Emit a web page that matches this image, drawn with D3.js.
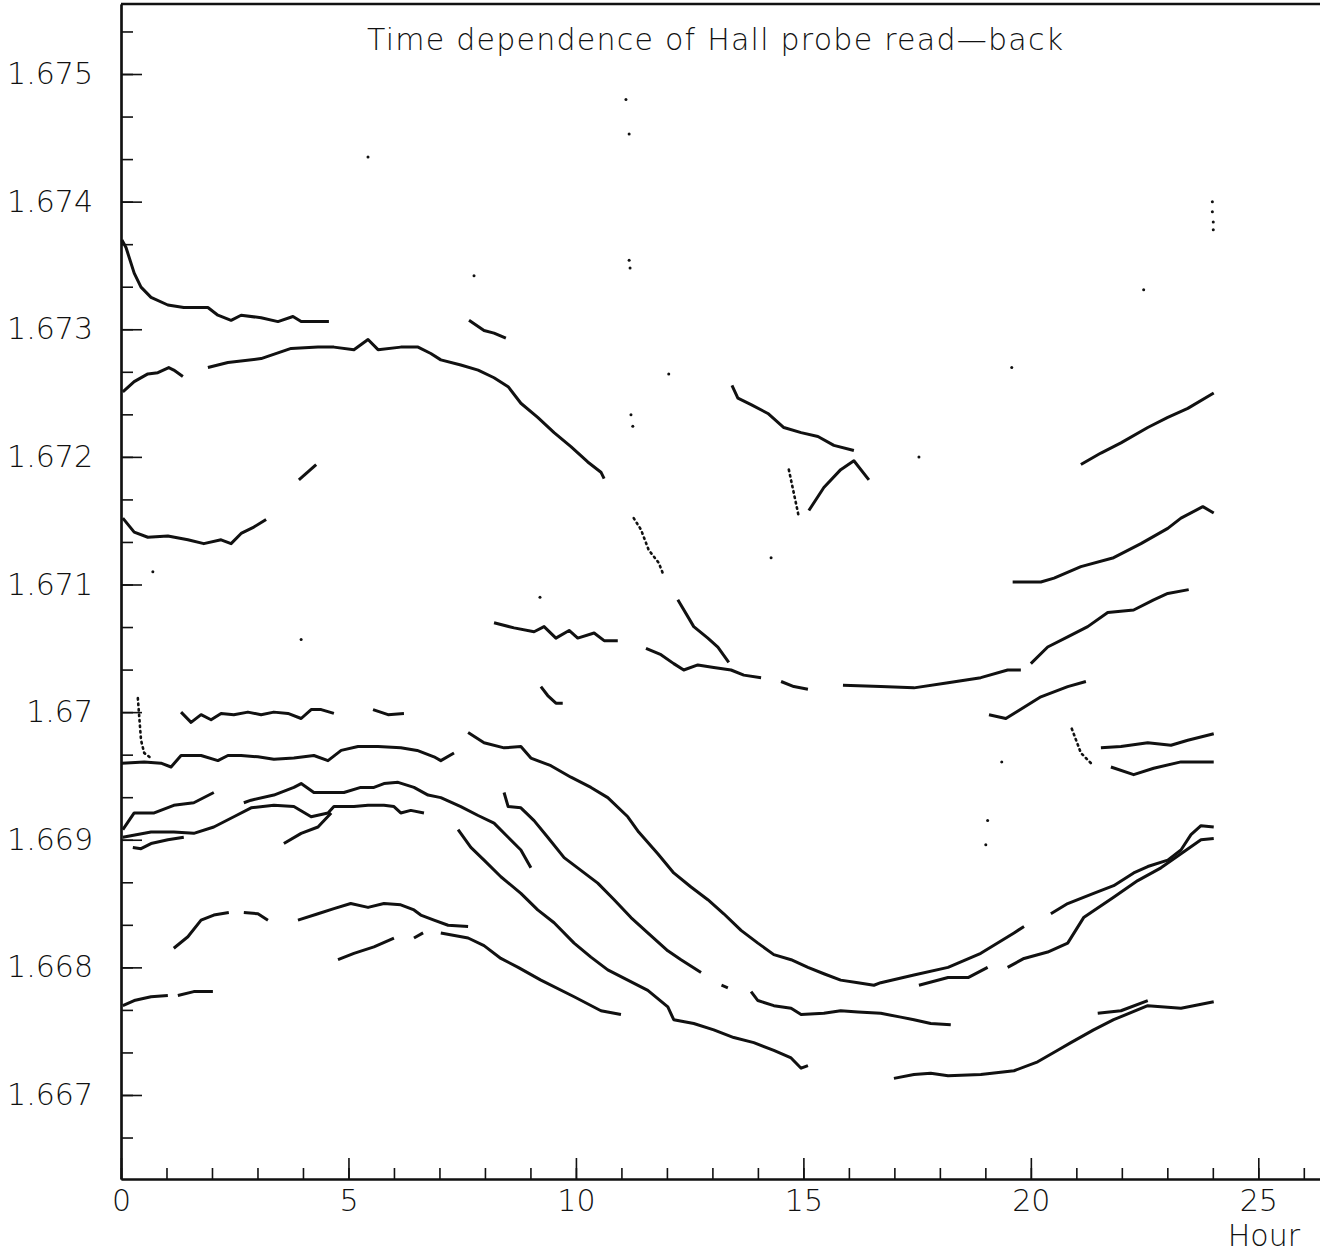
<!DOCTYPE html>
<html>
<head>
<meta charset="utf-8">
<script src="https://cdn.jsdelivr.net/npm/d3@7"></script>
<style>
  body { margin: 0; background: #fff; }
  text { font-family: 'DejaVu Sans', 'Liberation Sans', sans-serif; font-weight: 200; fill: #111; }
  .seg { fill: none; stroke: #111; stroke-width: 3; stroke-linejoin: round; }
  .dotted { fill: none; stroke: #111; stroke-width: 2.6; stroke-dasharray: 1.5 4; stroke-linecap: round; }
</style>
</head>
<body>
<div id="chart-area"></div>
<script>
// tick labels
var yTickValues = [1.667, 1.668, 1.669, 1.670, 1.671, 1.672, 1.673, 1.674, 1.675]
var yTickLabels = ['1.667', '1.668', '1.669', '1.67', '1.671', '1.672', '1.673', '1.674', '1.675']
var xTickValues = [0, 5, 10, 15, 20, 25]

// read-back traces, [hour, field]
var segA = [[0.02, 1.67370], [0.11, 1.67364], [0.29, 1.67344], [0.44, 1.67333], [0.66, 1.67325], [1.03, 1.67319], [1.38, 1.67317], [1.91, 1.67317], [2.13, 1.67311], [2.42, 1.67307], [2.64, 1.67311], [3.08, 1.67309], [3.45, 1.67306], [3.78, 1.67310], [3.96, 1.67306], [4.57, 1.67306]]
var segB1 = [[0.04, 1.67251], [0.29, 1.67259], [0.59, 1.67265], [0.81, 1.67266], [1.05, 1.67270], [1.16, 1.67268], [1.36, 1.67263]]
var segB2 = [[1.91, 1.67270], [2.35, 1.67274], [3.08, 1.67277], [3.74, 1.67285], [4.33, 1.67286], [4.68, 1.67286], [5.12, 1.67284], [5.43, 1.67292], [5.65, 1.67284], [6.15, 1.67286], [6.53, 1.67286], [6.81, 1.67281], [7.03, 1.67276], [7.47, 1.67272], [7.85, 1.67268], [8.20, 1.67262], [8.51, 1.67255], [8.79, 1.67242], [9.16, 1.67231], [9.52, 1.67219], [9.89, 1.67208], [10.26, 1.67196], [10.55, 1.67188], [10.62, 1.67183]]
var segC = [[7.65, 1.67307], [7.98, 1.67299], [8.20, 1.67297], [8.46, 1.67293]]
var segD = [[3.91, 1.67182], [4.29, 1.67194]]
var segE = [[0.04, 1.67152], [0.29, 1.67141], [0.59, 1.67137], [1.03, 1.67138], [1.47, 1.67135], [1.82, 1.67132], [2.20, 1.67135], [2.42, 1.67132], [2.64, 1.67140], [2.92, 1.67145], [3.19, 1.67151]]
var segF = [[13.43, 1.67256], [13.56, 1.67246], [13.85, 1.67241], [14.22, 1.67234], [14.57, 1.67223], [14.95, 1.67219], [15.32, 1.67216], [15.67, 1.67209], [16.11, 1.67205]]
var segG1 = [[14.68, 1.67190], [14.90, 1.67153]]
var segG2 = [[15.12, 1.67158], [15.45, 1.67176], [15.82, 1.67190], [16.11, 1.67197], [16.44, 1.67182]]
var segH = [[11.27, 1.67152], [11.43, 1.67143], [11.60, 1.67127], [11.82, 1.67117], [11.93, 1.67107]]
var segI = [[12.24, 1.67088], [12.59, 1.67067], [12.90, 1.67058], [13.12, 1.67051], [13.36, 1.67039]]
var segJ = [[8.20, 1.67070], [8.64, 1.67066], [9.08, 1.67063], [9.30, 1.67067], [9.56, 1.67058], [9.85, 1.67064], [10.04, 1.67058], [10.40, 1.67062], [10.62, 1.67056], [10.92, 1.67056]]
var segK = [[11.54, 1.67050], [11.87, 1.67045], [12.15, 1.67038], [12.37, 1.67033], [12.68, 1.67037], [13.03, 1.67035], [13.41, 1.67033], [13.69, 1.67029], [14.07, 1.67027]]
var segL = [[14.51, 1.67024], [14.79, 1.67020], [15.10, 1.67018]]
var segM1 = [[15.87, 1.67021], [16.70, 1.67020], [17.43, 1.67019], [18.18, 1.67023], [18.90, 1.67027], [19.49, 1.67033], [19.78, 1.67033]]
var segM2 = [[20.00, 1.67038], [20.37, 1.67051], [20.81, 1.67059], [21.25, 1.67067], [21.69, 1.67078], [22.26, 1.67080], [22.70, 1.67088], [23.01, 1.67093], [23.47, 1.67096]]
var segN = [[19.60, 1.67102], [20.22, 1.67102], [20.51, 1.67105], [21.10, 1.67114], [21.82, 1.67121], [22.42, 1.67132], [23.01, 1.67144], [23.30, 1.67152], [23.78, 1.67161], [24.02, 1.67156]]
var segO = [[21.10, 1.67194], [21.54, 1.67203], [21.98, 1.67211], [22.57, 1.67223], [23.01, 1.67231], [23.45, 1.67238], [24.02, 1.67250]]
var segP = [[19.08, 1.66998], [19.45, 1.66995], [20.22, 1.67012], [20.81, 1.67020], [21.21, 1.67024]]
var segQ1 = [[20.90, 1.66987], [21.10, 1.66968], [21.32, 1.66960]]
var segQ2 = [[21.54, 1.66972], [21.98, 1.66973], [22.57, 1.66976], [23.08, 1.66974], [23.45, 1.66978], [24.02, 1.66983]]
var segR = [[21.76, 1.66957], [22.26, 1.66951], [22.70, 1.66956], [23.30, 1.66961], [24.02, 1.66961]]
var segS = [[7.63, 1.66984], [7.98, 1.66976], [8.42, 1.66972], [8.79, 1.66973], [9.01, 1.66964], [9.45, 1.66958], [9.89, 1.66949], [10.33, 1.66941], [10.70, 1.66933], [11.14, 1.66918], [11.38, 1.66906], [11.80, 1.66889], [12.15, 1.66874], [12.53, 1.66863], [12.90, 1.66853], [13.25, 1.66842], [13.63, 1.66829], [14.00, 1.66819], [14.35, 1.66810], [14.73, 1.66806], [15.10, 1.66800], [15.45, 1.66795], [15.82, 1.66790], [16.20, 1.66788], [16.55, 1.66786], [16.70, 1.66788], [17.43, 1.66794], [18.18, 1.66800], [18.90, 1.66811], [19.63, 1.66827], [19.85, 1.66832]]
var segT = [[17.54, 1.66786], [18.18, 1.66792], [18.62, 1.66792], [19.05, 1.66800]]
var segU = [[19.49, 1.66800], [19.85, 1.66807], [20.37, 1.66812], [20.81, 1.66819], [21.16, 1.66839], [21.82, 1.66855], [22.35, 1.66868], [22.86, 1.66878], [23.30, 1.66889], [23.74, 1.66900], [24.02, 1.66901]]
var segV = [[20.44, 1.66842], [20.81, 1.66850], [21.38, 1.66858], [21.82, 1.66864], [22.26, 1.66874], [22.57, 1.66879], [23.01, 1.66884], [23.30, 1.66892], [23.52, 1.66904], [23.74, 1.66911], [24.02, 1.66910]]
var segW0 = [[13.20, 1.66786], [13.34, 1.66784]]
var segW = [[13.85, 1.66781], [14.00, 1.66774], [14.35, 1.66770], [14.73, 1.66768], [14.95, 1.66763], [15.45, 1.66764], [15.82, 1.66766], [16.20, 1.66765], [16.70, 1.66764], [17.14, 1.66761], [17.43, 1.66759], [17.80, 1.66756], [18.24, 1.66755]]
var segX1 = [[16.99, 1.66713], [17.43, 1.66716], [17.80, 1.66717], [18.18, 1.66715], [18.90, 1.66716], [19.63, 1.66719], [20.15, 1.66726], [20.59, 1.66735], [20.88, 1.66741], [21.38, 1.66751], [21.82, 1.66759], [22.57, 1.66770], [23.30, 1.66768], [24.02, 1.66773]]
var segX2 = [[21.47, 1.66764], [21.98, 1.66766], [22.57, 1.66774]]
var segY = [[8.42, 1.66937], [8.51, 1.66926], [8.79, 1.66925], [9.08, 1.66915], [9.38, 1.66902], [9.74, 1.66886], [10.11, 1.66876], [10.48, 1.66866], [10.84, 1.66853], [11.21, 1.66839], [11.58, 1.66827], [12.02, 1.66813], [12.31, 1.66806], [12.75, 1.66796]]
var segZ = [[7.41, 1.66908], [7.69, 1.66894], [7.98, 1.66884], [8.35, 1.66871], [8.79, 1.66858], [9.16, 1.66845], [9.52, 1.66835], [9.96, 1.66819], [10.33, 1.66808], [10.70, 1.66798], [11.14, 1.66790], [11.58, 1.66782], [12.02, 1.66769], [12.15, 1.66759], [12.59, 1.66756], [13.03, 1.66751], [13.47, 1.66745], [13.91, 1.66741], [14.35, 1.66735], [14.73, 1.66729], [14.95, 1.66721], [15.10, 1.66723]]
var seg4a = [[3.89, 1.66837], [4.33, 1.66842], [4.68, 1.66846], [5.05, 1.66850], [5.43, 1.66847], [5.78, 1.66850], [6.15, 1.66849], [6.44, 1.66845], [6.59, 1.66841], [6.88, 1.66837], [7.19, 1.66833], [7.63, 1.66832]]
var seg4b = [[7.03, 1.66827], [7.63, 1.66823], [7.98, 1.66817], [8.35, 1.66807], [8.73, 1.66800], [9.23, 1.66790], [9.96, 1.66777], [10.55, 1.66766], [10.99, 1.66763]]
var seg5a = [[1.16, 1.66815], [1.47, 1.66824], [1.76, 1.66837], [2.04, 1.66841], [2.37, 1.66843]]
var seg5b = [[2.70, 1.66843], [3.01, 1.66842], [3.23, 1.66837]]
var seg6a = [[4.77, 1.66806], [5.12, 1.66811], [5.56, 1.66816], [6.00, 1.66823]]
var seg6b = [[6.44, 1.66823], [6.64, 1.66827]]
var seg7a = [[0.04, 1.66770], [0.29, 1.66774], [0.66, 1.66777], [1.03, 1.66778]]
var seg7b = [[1.25, 1.66778], [1.60, 1.66781], [2.02, 1.66781]]
var seg8a = [[1.32, 1.67000], [1.54, 1.66992], [1.76, 1.66998], [1.98, 1.66994], [2.20, 1.66999], [2.48, 1.66998], [2.79, 1.67000], [3.08, 1.66998], [3.36, 1.67000], [3.67, 1.66999], [3.96, 1.66995], [4.18, 1.67002], [4.40, 1.67002], [4.68, 1.66999]]
var seg8b = [[5.54, 1.67002], [5.87, 1.66998], [6.22, 1.66999]]
var seg9 = [[0.37, 1.67011], [0.44, 1.66978], [0.51, 1.66968], [0.66, 1.66964]]
var seg10 = [[0.02, 1.66960], [0.51, 1.66961], [0.88, 1.66960], [1.10, 1.66957], [1.32, 1.66966], [1.76, 1.66966], [2.13, 1.66962], [2.35, 1.66966], [2.64, 1.66966], [3.01, 1.66965], [3.36, 1.66963], [3.80, 1.66964], [4.24, 1.66966], [4.55, 1.66962], [4.84, 1.66970], [5.21, 1.66973], [5.65, 1.66973], [6.15, 1.66972], [6.51, 1.66970], [6.88, 1.66965], [7.03, 1.66962], [7.32, 1.66968]]
var seg11 = [[0.04, 1.66908], [0.29, 1.66921], [0.73, 1.66921], [1.16, 1.66927], [1.60, 1.66929], [2.04, 1.66937]]
var seg12a = [[2.70, 1.66929], [2.86, 1.66931], [3.36, 1.66935], [3.80, 1.66941], [3.96, 1.66944], [4.24, 1.66937], [4.55, 1.66937], [4.90, 1.66937], [5.27, 1.66941], [5.56, 1.66941], [5.78, 1.66944], [6.09, 1.66945], [6.44, 1.66941], [6.75, 1.66935], [7.03, 1.66933], [7.47, 1.66926], [7.85, 1.66919], [8.20, 1.66913], [8.51, 1.66902], [8.79, 1.66892], [9.01, 1.66878]]
var seg12b = [[0.04, 1.66902], [0.66, 1.66906], [1.16, 1.66906], [1.60, 1.66905], [2.04, 1.66910], [2.48, 1.66918], [2.86, 1.66925], [3.36, 1.66927], [3.80, 1.66926], [4.18, 1.66918], [4.55, 1.66921], [4.68, 1.66926], [5.12, 1.66926], [5.43, 1.66927], [5.78, 1.66927], [6.00, 1.66926], [6.15, 1.66921], [6.37, 1.66923], [6.66, 1.66921]]
var seg12c = [[0.26, 1.66894], [0.44, 1.66893], [0.66, 1.66897], [1.03, 1.66900], [1.38, 1.66902]]
var seg12d = [[3.58, 1.66897], [3.96, 1.66905], [4.33, 1.66910], [4.62, 1.66921]]
var segMid = [[9.23, 1.67020], [9.38, 1.67013], [9.56, 1.67007], [9.71, 1.67007]]

var solidTraces = [segA, segB1, segB2, segC, segD, segE, segF, segG2, segI, segJ, segK, segL, segM1, segM2, segN, segO, segP, segQ2, segR, segS, segT, segU, segV, segW0, segW, segX1, segX2, segY, segZ, seg4a, seg4b, seg5a, seg5b, seg6a, seg6b, seg7a, seg7b, seg8a, seg8b, seg10, seg11, seg12a, seg12b, seg12c, seg12d, segMid]
var dottedTraces = [segG1, segH, segQ1, seg9]

// stray single readings
var strayPoints = [[11.10, 1.67480], [11.17, 1.67453], [11.17, 1.67354], [11.19, 1.67348], [11.21, 1.67233], [11.25, 1.67224], [23.99, 1.67400], [23.99, 1.67392], [24.01, 1.67384], [24.01, 1.67378], [5.43, 1.67435], [22.48, 1.67331], [19.58, 1.67270], [17.54, 1.67200], [14.29, 1.67121], [9.21, 1.67090], [3.96, 1.67057], [0.70, 1.67110], [19.36, 1.66961], [19.05, 1.66915], [19.01, 1.66896], [12.04, 1.67265], [7.76, 1.67342]]

// frame (note: "top" is reserved on window, so use plot* names)
var W = 1320
var H = 1253
var plotLeft = 121
var plotTop = 4
var plotBottom = 1179
var plotRight = 1322

var svg = d3.select('#chart-area')
  .append('svg')
  .attr('width', W)
  .attr('height', H)

// Scales
var x = d3.scaleLinear()
  .domain([0, 26.4])
  .range([plotLeft, plotRight])

var y = d3.scaleLinear()
  .domain([1.667 - 84 / 127600, 1.675 + 70 / 127600])
  .range([plotBottom, plotTop])

// minor ticks: x every hour, y every third of 0.001
var xMinor = d3.range(0, 27)
var yMinor = d3.range(-1, 27).map(function (i) { return 1.667 + i * 0.001 / 3 })
  .filter(function (v) { return v > y.domain()[0] && v < y.domain()[1] })

// Y axis, ticks inside
svg.append('g')
  .attr('transform', 'translate(' + plotLeft + ',0)')
  .call(d3.axisRight(y).tickValues(yMinor).tickSize(12).tickSizeOuter(0).tickFormat(''))
svg.append('g')
  .attr('transform', 'translate(' + plotLeft + ',0)')
  .call(d3.axisRight(y).tickValues(yTickValues).tickSize(21).tickSizeOuter(0).tickFormat(''))
var yLab = svg.append('g')
  .attr('transform', 'translate(' + plotLeft + ',0)')
  .call(d3.axisLeft(y).tickValues(yTickValues).tickSize(0).tickPadding(28)
    .tickFormat(function (d, i) { return yTickLabels[i] }))
yLab.select('.domain').remove()

// X axis, ticks inside
svg.append('g')
  .attr('transform', 'translate(0,' + plotBottom + ')')
  .call(d3.axisTop(x).tickValues(xMinor).tickSize(11).tickSizeOuter(0).tickFormat(''))
svg.append('g')
  .attr('transform', 'translate(0,' + plotBottom + ')')
  .call(d3.axisTop(x).tickValues(xTickValues).tickSize(21).tickSizeOuter(0).tickFormat(''))
var xLab = svg.append('g')
  .attr('transform', 'translate(0,' + plotBottom + ')')
  .call(d3.axisBottom(x).tickValues(xTickValues).tickSize(0).tickPadding(11).tickFormat(d3.format('d')))
xLab.select('.domain').remove()

svg.selectAll('.tick line').attr('stroke', '#111').attr('stroke-width', 1.6)
svg.selectAll('.domain').attr('stroke', '#111').attr('stroke-width', 2.2)
svg.selectAll('.tick text')
  .attr('font-size', '30px')
  .attr('fill', '#111')
  .style('font-family', "'DejaVu Sans', 'Liberation Sans', sans-serif")
  .style('font-weight', 200)

// top frame
svg.append('line')
  .attr('x1', plotLeft).attr('x2', plotRight)
  .attr('y1', plotTop).attr('y2', plotTop)
  .attr('stroke', '#111')
  .attr('stroke-width', 2.5)

// traces
var line = d3.line()
  .x(function (d) { return x(d[0]) })
  .y(function (d) { return y(d[1]) })

svg.append('g').selectAll('path.seg')
  .data(solidTraces)
  .enter().append('path')
  .attr('class', 'seg')
  .attr('d', line)

svg.append('g').selectAll('path.dotted')
  .data(dottedTraces)
  .enter().append('path')
  .attr('class', 'dotted')
  .attr('d', line)

svg.append('g').selectAll('circle')
  .data(strayPoints)
  .enter().append('circle')
  .attr('cx', function (d) { return x(d[0]) })
  .attr('cy', function (d) { return y(d[1]) })
  .attr('r', 1.5)
  .attr('fill', '#111')

// Title
svg.append('text')
  .attr('x', 367)
  .attr('y', 50)
  .attr('font-size', '30px')
  .attr('textLength', 696)
  .attr('lengthAdjust', 'spacing')
  .text('Time dependence of Hall probe read—back')

// X label
svg.append('text')
  .attr('x', 1300)
  .attr('y', 1246)
  .attr('font-size', '30px')
  .attr('text-anchor', 'end')
  .text('Hour')
</script>
</body>
</html>
